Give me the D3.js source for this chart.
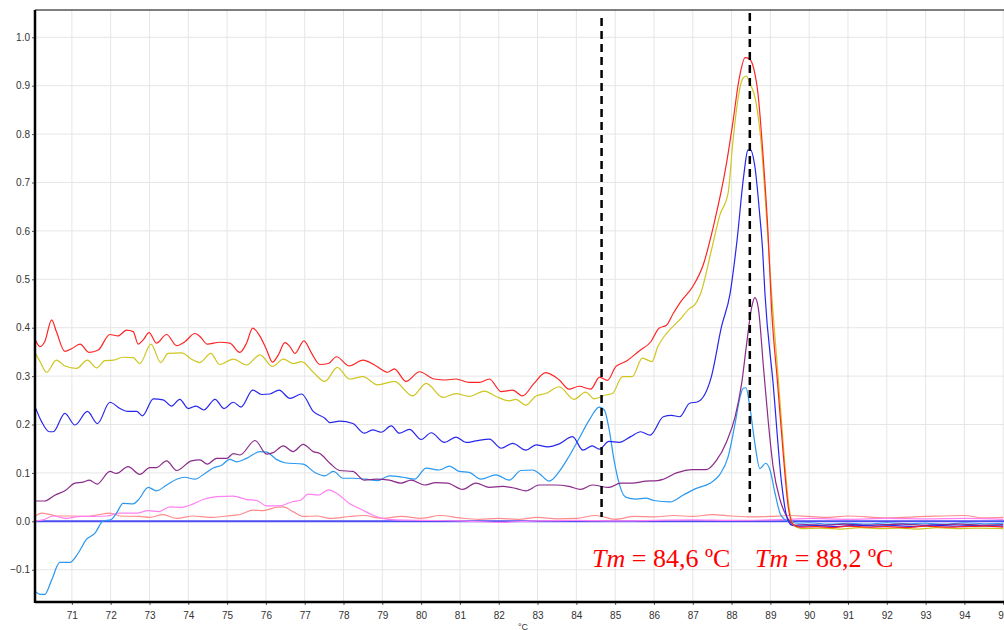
<!DOCTYPE html>
<html><head><meta charset="utf-8">
<script src="https://cdn.jsdelivr.net/npm/d3@7"></script>
<style>html,body{margin:0;padding:0;background:#fff;overflow:hidden}</style>
</head><body><svg id="c" width="1004" height="630"></svg>
<script>
// ---- data (temperature °C, -dF/dT) ----
const xTicks = [71,72,73,74,75,76,77,78,79,80,81,82,83,84,85,86,87,88,89,90,91,92,93,94,95];
const yTicks = [-0.1,0,0.1,0.2,0.3,0.4,0.5,0.6,0.7,0.8,0.9,1.0];
const tmLines = [84.65, 88.47];
const tmLabels = ["84,6", "88,2"];
const xLabel = "°C";

const red = [[70.05,.376],[70.18,.361],[70.30,.371],[70.48,.416],[70.60,.392],[70.82,.351],[71.0,.357],[71.21,.366],[71.45,.349],[71.68,.354],[71.98,.386],[72.19,.383],[72.41,.395],[72.58,.392],[72.71,.366],[72.84,.375],[72.99,.390],[73.18,.368],[73.44,.386],[73.70,.363],[73.91,.371],[74.17,.388],[74.30,.382],[74.49,.366],[74.81,.370],[75.07,.368],[75.33,.349],[75.50,.368],[75.66,.399],[75.85,.382],[76.02,.354],[76.17,.329],[76.32,.344],[76.49,.369],[76.62,.361],[76.75,.347],[76.98,.373],[77.18,.347],[77.39,.324],[77.61,.326],[77.82,.340],[78.15,.321],[78.5,.333],[78.84,.321],[79.14,.308],[79.31,.315],[79.61,.289],[79.96,.309],[80.34,.294],[80.64,.292],[80.9,.294],[81.24,.287],[81.5,.287],[81.76,.294],[82.06,.268],[82.36,.271],[82.61,.259],[82.91,.285],[83.21,.307],[83.56,.292],[83.81,.273],[84.07,.279],[84.37,.273],[84.6,.298],[84.8,.291],[85.02,.320],[85.27,.330],[85.62,.352],[85.92,.371],[86.13,.399],[86.32,.405],[86.5,.430],[86.7,.455],[87.0,.485],[87.27,.530],[87.53,.609],[87.87,.740],[88.03,.822],[88.19,.912],[88.35,.958],[88.45,.956],[88.57,.936],[88.68,.884],[88.82,.746],[88.94,.595],[89.03,.44],[89.18,.29],[89.33,.14],[89.46,.03],[89.58,-.006],[89.75,-.012],[90.2,-.011],[90.6,-.013],[91.0,-.010],[91.5,-.012],[92.0,-.011],[92.5,-.013],[93.0,-.010],[93.5,-.012],[94.0,-.011],[94.5,-.010],[95.0,-.012]];

const yellow = [[70.05,.349],[70.18,.330],[70.35,.308],[70.6,.333],[70.82,.321],[71.12,.316],[71.4,.333],[71.64,.317],[71.85,.332],[72.07,.333],[72.32,.339],[72.58,.338],[72.75,.326],[73.04,.366],[73.29,.328],[73.48,.347],[73.83,.348],[74.08,.335],[74.3,.328],[74.58,.347],[74.81,.324],[75.16,.335],[75.5,.323],[75.85,.344],[76.17,.320],[76.45,.335],[76.7,.326],[76.92,.330],[77.22,.308],[77.52,.289],[77.84,.318],[78.15,.294],[78.5,.299],[78.88,.282],[79.31,.289],[79.78,.259],[80.13,.285],[80.56,.256],[80.9,.264],[81.24,.258],[81.63,.269],[81.93,.258],[82.27,.249],[82.44,.252],[82.7,.240],[82.96,.259],[83.21,.264],[83.56,.278],[83.94,.252],[84.24,.267],[84.46,.253],[84.76,.261],[84.93,.264],[85.19,.299],[85.44,.299],[85.7,.337],[85.95,.330],[86.1,.361],[86.32,.388],[86.66,.416],[86.92,.440],[87.05,.447],[87.2,.47],[87.48,.56],[87.7,.633],[87.91,.678],[88.03,.781],[88.16,.870],[88.29,.915],[88.38,.920],[88.47,.905],[88.62,.870],[88.77,.774],[88.9,.629],[89.03,.471],[89.2,.30],[89.35,.14],[89.48,.03],[89.6,-.008],[89.8,-.015],[90.3,-.014],[90.8,-.016],[91.3,-.013],[91.8,-.015],[92.3,-.014],[92.8,-.016],[93.3,-.013],[93.8,-.015],[94.3,-.014],[95.0,-.015]];

const blue = [[70.05,.237],[70.22,.206],[70.42,.185],[70.52,.185],[70.82,.223],[71.08,.199],[71.4,.227],[71.66,.202],[71.98,.246],[72.24,.233],[72.45,.227],[72.67,.227],[72.82,.218],[73.1,.253],[73.35,.251],[73.57,.238],[73.78,.252],[74.0,.233],[74.2,.238],[74.4,.230],[74.69,.252],[74.92,.233],[75.16,.246],[75.36,.236],[75.66,.271],[75.89,.262],[76.1,.263],[76.34,.271],[76.62,.254],[76.92,.263],[77.22,.227],[77.52,.213],[77.65,.204],[77.9,.207],[78.24,.202],[78.54,.182],[78.75,.189],[78.97,.184],[79.23,.197],[79.44,.182],[79.7,.190],[80.0,.169],[80.26,.183],[80.6,.163],[80.9,.174],[81.16,.163],[81.41,.166],[81.76,.170],[82.06,.151],[82.36,.161],[82.7,.147],[82.96,.158],[83.26,.154],[83.56,.160],[83.9,.175],[84.17,.147],[84.41,.156],[84.59,.149],[84.84,.165],[85.1,.163],[85.4,.175],[85.66,.185],[85.9,.178],[86.24,.216],[86.45,.219],[86.66,.216],[86.92,.244],[87.13,.247],[87.48,.299],[87.74,.402],[87.96,.47],[88.14,.58],[88.31,.712],[88.42,.767],[88.48,.768],[88.6,.733],[88.73,.629],[88.8,.56],[88.86,.47],[89.07,.285],[89.29,.078],[89.42,.01],[89.55,-.008],[89.7,-.010],[90.2,-.009],[90.7,-.011],[91.2,-.008],[91.7,-.010],[92.2,-.009],[92.7,-.011],[93.2,-.008],[93.7,-.010],[94.2,-.009],[95.0,-.010]];

const purple = [[70.05,.042],[70.3,.042],[70.56,.054],[70.82,.063],[71.08,.079],[71.29,.081],[71.45,.085],[71.65,.077],[71.98,.103],[72.15,.099],[72.45,.113],[72.75,.097],[73.01,.111],[73.18,.111],[73.44,.125],[73.7,.105],[74.08,.125],[74.3,.127],[74.49,.118],[74.73,.130],[74.99,.130],[75.16,.140],[75.33,.137],[75.72,.167],[76.02,.139],[76.19,.142],[76.45,.156],[76.7,.144],[76.96,.159],[77.22,.144],[77.39,.140],[77.65,.120],[77.9,.105],[78.24,.103],[78.54,.085],[78.84,.087],[79.18,.085],[79.48,.079],[79.74,.085],[80.08,.075],[80.38,.080],[80.68,.079],[81.07,.066],[81.41,.079],[81.76,.070],[82.1,.072],[82.44,.068],[82.7,.063],[83.04,.075],[83.47,.075],[83.81,.072],[84.11,.066],[84.41,.075],[84.84,.070],[85.14,.079],[85.44,.079],[85.79,.083],[86.09,.084],[86.24,.087],[86.58,.100],[87.0,.107],[87.35,.107],[87.61,.126],[87.87,.164],[88.09,.216],[88.26,.285],[88.39,.368],[88.52,.443],[88.6,.462],[88.69,.440],[88.82,.320],[88.95,.202],[89.07,.113],[89.25,.044],[89.42,.010],[89.6,-.008],[89.9,-.007],[90.4,-.008],[90.9,-.006],[91.4,-.008],[91.9,-.007],[92.4,-.006],[92.9,-.008],[93.4,-.007],[93.9,-.006],[94.4,-.008],[95.0,-.007]];

const lightBlue = [[70.05,-.144],[70.18,-.151],[70.3,-.151],[70.48,-.121],[70.69,-.085],[70.95,-.085],[71.16,-.066],[71.38,-.037],[71.59,-.025],[71.81,.001],[72.0,.003],[72.15,.017],[72.32,.037],[72.58,.036],[72.71,.044],[72.97,.070],[73.18,.063],[73.44,.075],[73.7,.087],[73.91,.091],[74.17,.087],[74.43,.099],[74.64,.110],[74.86,.116],[75.07,.128],[75.24,.123],[75.5,.130],[75.85,.144],[76.02,.143],[76.27,.128],[76.49,.121],[76.96,.118],[77.26,.101],[77.52,.094],[77.74,.103],[77.99,.089],[78.24,.089],[78.58,.087],[78.88,.084],[79.18,.094],[79.53,.091],[79.83,.087],[80.13,.110],[80.47,.106],[80.73,.114],[80.98,.103],[81.24,.101],[81.54,.087],[81.93,.096],[82.27,.085],[82.57,.105],[82.87,.106],[83.04,.099],[83.3,.083],[83.56,.103],[83.81,.134],[84.07,.171],[84.33,.209],[84.59,.236],[84.72,.230],[84.84,.192],[84.97,.127],[85.1,.079],[85.27,.050],[85.53,.046],[85.79,.048],[86.0,.043],[86.41,.040],[86.75,.054],[87.09,.068],[87.43,.078],[87.69,.096],[87.91,.133],[88.09,.202],[88.22,.257],[88.3,.275],[88.37,.276],[88.47,.237],[88.6,.161],[88.73,.109],[88.88,.120],[88.99,.106],[89.12,.058],[89.25,.016],[89.38,.003],[89.5,-.001],[89.7,-.004],[90.0,-.003],[90.5,-.006],[91.0,-.004],[91.5,-.006],[92.0,-.003],[92.5,-.005],[93.0,-.004],[93.5,-.006],[94.0,-.003],[94.5,-.005],[95.0,-.004]];

const pink = [[70.05,.001],[70.26,.003],[70.52,.011],[70.86,.006],[71.21,.010],[71.55,.010],[71.89,.011],[72.24,.017],[72.67,.017],[72.97,.022],[73.23,.020],[73.53,.030],[73.83,.029],[74.13,.036],[74.38,.045],[74.73,.051],[75.16,.052],[75.5,.045],[75.76,.043],[76.02,.032],[76.36,.032],[76.7,.041],[76.88,.043],[77.09,.056],[77.35,.054],[77.61,.065],[77.82,.058],[78.15,.037],[78.5,.023],[78.75,.013],[79.01,.006],[79.35,.003],[80.0,.002],[81.0,.001],[82.0,-.002],[83.0,.001],[84.0,.002],[85.0,.001],[86.0,.002],[87.0,.003],[88.0,.002],[89.0,.003],[89.5,.004],[90.0,.006],[91.0,.004],[92.0,.006],[93.0,.005],[94.0,.006],[95.0,.004]];

const salmon = [[70.05,.010],[70.22,.017],[70.39,.015],[70.6,.011],[71.03,.011],[71.38,.010],[71.64,.013],[71.98,.017],[72.24,.011],[72.75,.010],[73.01,.008],[73.35,.014],[73.7,.006],[74.13,.011],[74.56,.008],[74.99,.011],[75.33,.014],[75.67,.023],[75.93,.022],[76.27,.029],[76.45,.030],[76.7,.020],[76.96,.010],[77.31,.011],[77.65,.006],[78.16,.010],[78.5,.012],[79.0,.006],[79.5,.010],[80.0,.006],[80.5,.012],[81.0,.007],[81.5,.004],[82.0,.006],[82.5,.004],[83.0,.008],[83.5,.005],[84.0,.006],[84.5,.012],[85.0,.004],[85.5,.010],[86.0,.009],[86.5,.012],[87.0,.010],[87.5,.014],[88.0,.011],[88.5,.009],[89.0,.010],[89.5,.012],[90.0,.010],[90.5,.008],[91.0,.011],[92.0,.007],[93.0,.010],[94.0,.012],[94.5,.007],[95.0,.008]];

const seriesList = [
  {name:"s7", values:salmon, color:"#ff8c8c"},
  {name:"s6", values:pink, color:"#ff80f2"},
  {name:"s5", values:lightBlue, color:"#2a98f0"},
  {name:"s4", values:purple, color:"#8a2a8a"},
  {name:"s3", values:blue, color:"#2626ee"},
  {name:"s2", values:yellow, color:"#cfc520"},
  {name:"s1", values:red, color:"#ff2424"}
];

// ---- layout ----
const L = 35, R = 1004, T = 10, B = 602;
const x = d3.scaleLinear().domain([70.05, 95.02]).range([L, R]);
const y = d3.scaleLinear().domain([-0.1667, 1.0564]).range([B, T]);
const svg = d3.select("#c");

// grid
const g = svg.append("g");
g.selectAll(".vg").data(xTicks).join("line")
  .attr("x1", d=>x(d)).attr("x2", d=>x(d)).attr("y1", T).attr("y2", B)
  .attr("stroke", "#e6e6e6").attr("stroke-width", 1);
g.selectAll(".hg").data(yTicks).join("line")
  .attr("x1", L).attr("x2", R).attr("y1", d=>y(d)).attr("y2", d=>y(d))
  .attr("stroke", "#e6e6e6").attr("stroke-width", 1);

// clip
svg.append("clipPath").attr("id","clip").append("rect")
  .attr("x", L).attr("y", T).attr("width", R-L).attr("height", B-T);

const plot = svg.append("g").attr("clip-path","url(#clip)");

// zero line
plot.append("line").attr("x1", L).attr("x2", R).attr("y1", y(0)).attr("y2", y(0))
  .attr("stroke", "#4c4cf2").attr("stroke-width", 2);

const line = d3.line().x(d=>x(d[0])).y(d=>y(d[1])).curve(d3.curveMonotoneX);
plot.selectAll(".s").data(seriesList).join("path")
  .attr("d", d=>line(d.values)).attr("fill","none")
  .attr("stroke", d=>d.color).attr("stroke-width", 1.2);

// Tm dashed lines
const tmTop = [1.04, 1.05], tmBot = [0.009, 0.018];
svg.selectAll(".tm").data(tmLines).join("line")
  .attr("x1", d=>x(d)).attr("x2", d=>x(d))
  .attr("y1", (d,i)=>y(tmTop[i])).attr("y2", (d,i)=>y(tmBot[i]))
  .attr("stroke", "#000").attr("stroke-width", 2.5).attr("stroke-dasharray", "8,5");

// axes
const xAxis = d3.axisBottom(x).tickValues(xTicks).tickFormat(d3.format("d")).tickSize(3).tickPadding(7);
const yAxis = d3.axisLeft(y).tickValues(yTicks).tickFormat(d3.format(".1f")).tickSize(3).tickPadding(2);
const xa = svg.append("g").attr("transform", `translate(0,${B})`).call(xAxis);
const ya = svg.append("g").attr("transform", `translate(${L},0)`).call(yAxis);
[xa, ya].forEach(a => {
  a.select(".domain").remove();
  a.selectAll(".tick line").attr("stroke", "#555");
  a.selectAll(".tick text").attr("fill", "#333").style("font-family", "'Liberation Sans', Arial, sans-serif").style("font-size", "10px");
});
// frame lines
svg.append("line").attr("x1", L).attr("x2", R).attr("y1", B).attr("y2", B).attr("stroke", "#000").attr("stroke-width", 2.5);
svg.append("line").attr("x1", L).attr("x2", L).attr("y1", T).attr("y2", B+1).attr("stroke", "#000").attr("stroke-width", 2.5);
svg.append("line").attr("x1", L).attr("x2", R).attr("y1", T).attr("y2", T).attr("stroke", "#000").attr("stroke-width", 1);

svg.append("text").attr("x", 523).attr("y", 630).attr("text-anchor","middle")
  .style("font-family", "'Liberation Sans', Arial, sans-serif").style("font-size","9px").attr("fill","#333").text(xLabel);

// Tm labels
const labX = [592, 755];
tmLabels.forEach((t,i) => {
  const tx = svg.append("text").attr("x", labX[i]).attr("y", 567)
    .attr("fill", "#ff0000").style("font-family", "'Liberation Serif', 'Times New Roman', serif").style("font-size", "26px");
  tx.append("tspan").attr("font-style","italic").text("Tm");
  tx.append("tspan").text(" = " + t + " ºC");
});
</script></body></html>
